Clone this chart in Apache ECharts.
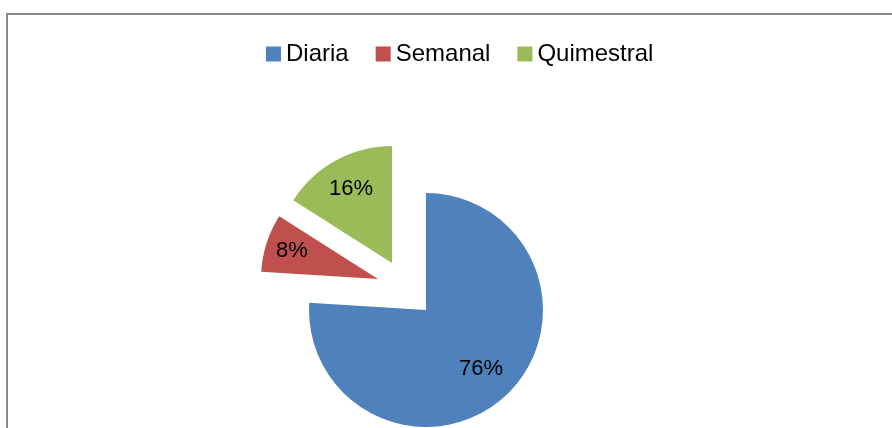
<!DOCTYPE html>
<html>
<head>
<meta charset="utf-8">
<script src="https://cdn.jsdelivr.net/npm/echarts@6/dist/echarts.min.js"></script>
<style>
html,body{margin:0;padding:0;background:#fff;}
#chart{width:892px;height:428px;}
</style>
</head>
<body>
<div id="chart"></div>
<script>
const categories = ['Diaria', 'Semanal', 'Quimestral'];
const values = [76, 8, 16];
const colors = ['#4F81BD', '#C0504D', '#9BBB59'];

// layout: each slice is drawn from its own (exploded) centre
const centers = [[426, 310], [378, 279], [392, 263]];
const pieRadius = 117;
const labelRadius = [155, 175, 164];
const FONT = "'Liberation Sans', Arial, sans-serif";

const series = [];
categories.forEach(function (name, k) {
  series.push({
    type: 'pie',
    silent: true,
    center: centers[k],
    radius: pieRadius,
    startAngle: 90,
    clockwise: true,
    avoidLabelOverlap: false,
    label: { show: false },
    labelLine: { show: false },
    emphasis: { disabled: true },
    data: categories.map(function (c, i) {
      return { name: c, value: values[i], itemStyle: { color: i === k ? colors[i] : 'transparent', borderWidth: 0 } };
    })
  });
  series.push({
    type: 'pie',
    silent: true,
    center: centers[k],
    radius: labelRadius[k],
    startAngle: 90,
    clockwise: true,
    avoidLabelOverlap: false,
    itemStyle: { color: 'transparent', borderWidth: 0 },
    labelLine: { show: false },
    emphasis: { disabled: true },
    label: {
      show: true,
      position: 'inside',
      formatter: '{d}%',
      color: '#000',
      fontSize: 22,
      fontFamily: FONT
    },
    data: categories.map(function (c, i) {
      return { name: c, value: values[i], label: { show: i === k } };
    })
  });
});

const chart = echarts.init(document.getElementById('chart'), null, { renderer: 'canvas' });
chart.setOption({
  animation: false,
  backgroundColor: '#fff',
  graphic: [{
    type: 'rect',
    silent: true,
    shape: { x: 7, y: 14, width: 1000, height: 1000 },
    style: { fill: 'none', stroke: '#898989', lineWidth: 2 }
  }],
  legend: {
    selectedMode: false,
    left: 266,
    top: 42,
    padding: 0,
    icon: 'rect',
    itemWidth: 15,
    itemHeight: 15,
    itemGap: 27,
    textStyle: { color: '#000', fontSize: 24, fontFamily: FONT },
    data: categories.map(function (c, i) {
      return { name: c, itemStyle: { color: colors[i] } };
    })
  },
  series: series
});
</script>
</body>
</html>
